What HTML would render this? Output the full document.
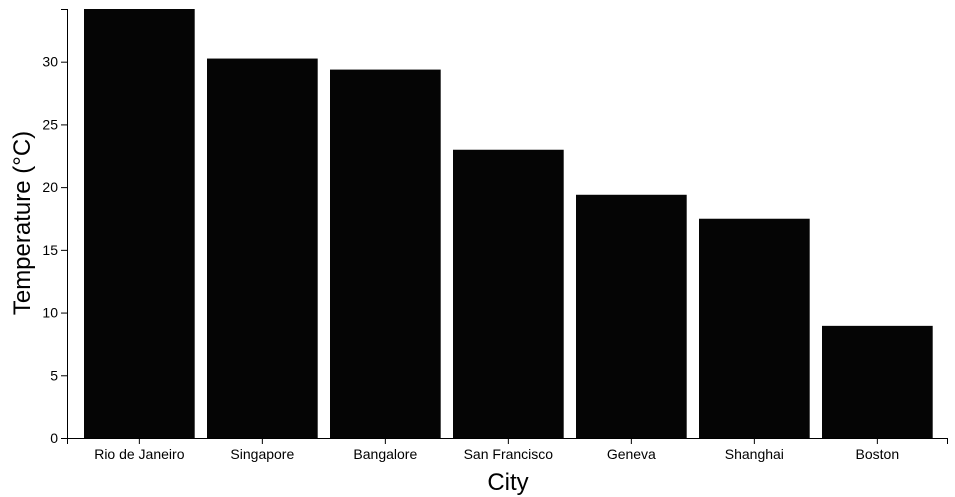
<!DOCTYPE html>
<html><head><meta charset="utf-8"><style>
body{margin:0;background:#fff;}
svg{display:block;font-family:"Liberation Sans",Arial,sans-serif;}
</style></head><body>
<svg id="chart" width="955" height="497"></svg>
<script>
const cities = ["Rio de Janeiro","Singapore","Bangalore","San Francisco","Geneva","Shanghai","Boston"];
const temps = [34.2, 30.25, 29.37, 22.98, 19.39, 17.48, 8.94];
const yTicks = [0,5,10,15,20,25,30];

const NS="http://www.w3.org/2000/svg";
const svgEl=document.getElementById('chart');
const pLeft=67,pRight=947,pBottom=438,pTop=9;
const yMax=Math.max(...temps);
const yScale=v=>pBottom-(v/yMax)*(pBottom-pTop);
const nCat=cities.length;
const step=(pRight-pLeft-19)/nCat;
const bw=step*0.9;
const xScale=i=>pLeft+17+i*step;
function mk(t,a){const e=document.createElementNS(NS,t);for(const k in a)e.setAttribute(k,a[k]);svgEl.appendChild(e);return e;}

temps.forEach((v,i)=>{
  const r=mk('rect',{x:xScale(i),y:yScale(v),width:bw,height:pBottom-yScale(v),fill:'#050505'});
  
  
});
const ya=mk('path',{d:`M${pLeft-6},${pTop+0.5}H${pLeft+0.5}V${pBottom+0.5}H${pLeft-6}`,stroke:'#000',fill:'none'});


yTicks.forEach(t=>{
  mk('line',{x1:pLeft-6,x2:pLeft,y1:yScale(t)+0.5,y2:yScale(t)+0.5,stroke:'#000'});
  const tx=mk('text',{x:pLeft-9,y:yScale(t)+5,'text-anchor':'end','font-size':14});
  tx.textContent=t;
  
  
});
const xa=mk('path',{d:`M${pLeft+0.5},${pBottom+6}V${pBottom+0.5}H${pRight+0.5}V${pBottom+6}`,stroke:'#000',fill:'none'});


cities.forEach((c,i)=>{
  const cx=xScale(i)+bw/2;
  mk('line',{x1:cx,x2:cx,y1:pBottom,y2:pBottom+6,stroke:'#000'});
  const tx=mk('text',{x:cx,y:pBottom+21,'text-anchor':'middle','font-size':14});
  tx.textContent=c;
  
  
});
const xt=mk('text',{x:508,y:490,'text-anchor':'middle','font-size':24});
xt.textContent='City';


const yt=mk('text',{x:0,y:0,'text-anchor':'middle','font-size':24,transform:'translate(30,223) rotate(-90)'});
yt.textContent='Temperature (°C)';


</script>
</body></html>
